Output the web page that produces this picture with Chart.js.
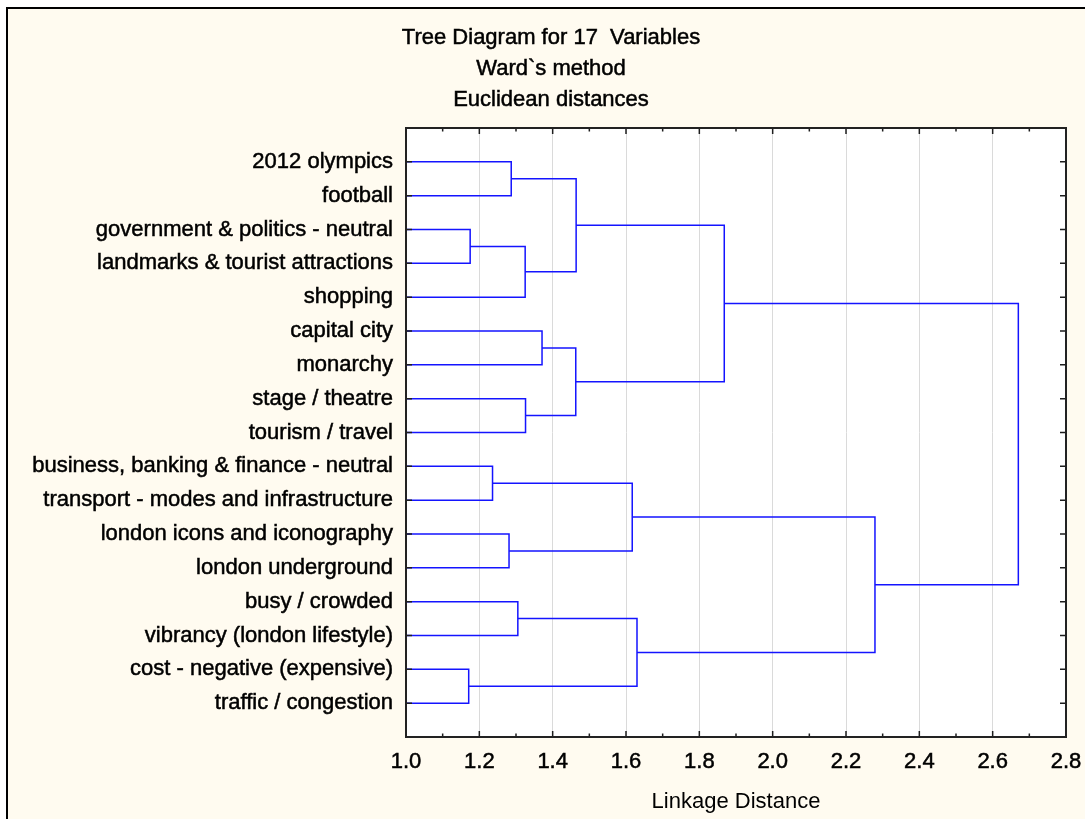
<!DOCTYPE html>
<html>
<head>
<meta charset="utf-8">
<title>Tree Diagram for 17 Variables</title>
<script src="https://cdn.jsdelivr.net/npm/chart.js@4.4.1/dist/chart.umd.min.js"></script>
<style>
  html, body { margin: 0; padding: 0; background: #fff; }
  #wrap { width: 1085px; height: 819px; }
</style>
</head>
<body>
<div id="wrap"><canvas id="tree" width="1085" height="819"></canvas></div>
<script>
const titleLines = ["Tree Diagram for 17  Variables", "Ward`s method", "Euclidean distances"];
const axisTitle = "Linkage Distance";

// leaves, top to bottom as drawn
const leafNames = [
  "2012 olympics",
  "football",
  "government & politics - neutral",
  "landmarks & tourist attractions",
  "shopping",
  "capital city",
  "monarchy",
  "stage / theatre",
  "tourism / travel",
  "business, banking & finance - neutral",
  "transport - modes and infrastructure",
  "london icons and iconography",
  "london underground",
  "busy / crowded",
  "vibrancy (london lifestyle)",
  "cost - negative (expensive)",
  "traffic / congestion"
];

// joins, in order. ids 0..16 = leaves, 17 + i = cluster made by join i
const mergeLeft  = [15, 2, 9, 11, 0, 13, 18, 7, 5, 25, 21, 19, 22, 27, 28, 30];
const mergeRight = [16, 3, 10, 12, 1, 14, 4, 8, 6, 24, 23, 20, 17, 26, 29, 31];
const mergeDist  = [1.171, 1.175, 1.236, 1.281, 1.287, 1.305, 1.325, 1.326, 1.371,
                    1.463, 1.464, 1.617, 1.630, 1.868, 2.279, 2.670];

const xMin = 1.0, xMax = 2.8;
const xTickValues = [1.0, 1.2, 1.4, 1.6, 1.8, 2.0, 2.2, 2.4, 2.6, 2.8];
const xMinorValues = [1.1, 1.3, 1.5, 1.7, 1.9, 2.1, 2.3, 2.5, 2.7];

const FONT = "'Liberation Sans', Arial, Helvetica, sans-serif";
const LINE_BLUE = '#1414ff';

// build one 3-segment bracket per join
const nodeX = leafNames.map(() => xMin);
const nodeY = leafNames.map((_, i) => i + 1);
const datasets = [];
mergeDist.forEach((d, i) => {
  const a = mergeLeft[i], b = mergeRight[i];
  datasets.push({
    label: 'join ' + (i + 1),
    data: [
      { x: nodeX[a], y: nodeY[a] },
      { x: d, y: nodeY[a] },
      { x: d, y: nodeY[b] },
      { x: nodeX[b], y: nodeY[b] }
    ],
    showLine: true,
    borderColor: LINE_BLUE,
    borderWidth: 1.5,
    borderJoinStyle: 'miter',
    pointRadius: 0,
    tension: 0
  });
  nodeX.push(d);
  nodeY.push((nodeY[a] + nodeY[b]) / 2);
});

// page frame, title, plot box and inward ticks (Statistica style)
const frameMarks = {
  id: 'frameMarks',
  beforeDraw(chart) {
    const { ctx, width, height, chartArea: a } = chart;
    ctx.save();
    ctx.fillStyle = '#fff';
    ctx.fillRect(0, 0, width, height);
    ctx.fillStyle = '#fffbf0';
    ctx.fillRect(7, 8, width + 20, height + 20);
    ctx.strokeStyle = '#000';
    ctx.lineWidth = 2;
    ctx.strokeRect(7, 8, width + 20, height + 20);
    ctx.fillStyle = '#fff';
    ctx.fillRect(a.left, a.top, a.right - a.left, a.bottom - a.top);

    // three title lines, centred on the page frame
    ctx.font = '22px ' + FONT;
    ctx.fillStyle = '#000';
    ctx.strokeStyle = '#000';
    ctx.lineWidth = 0.5;
    ctx.textAlign = 'center';
    ctx.textBaseline = 'middle';
    titleLines.forEach((t, i) => {
      ctx.strokeText(t, 551, 38 + i * 31);
      ctx.fillText(t, 551, 38 + i * 31);
    });
    ctx.restore();
  },
  afterDatasetsDraw(chart) {
    const { ctx, chartArea: a, scales } = chart;
    const xs = scales.x, ys = scales.y;
    ctx.save();
    ctx.strokeStyle = '#1e1e1e';
    ctx.lineWidth = 1.5;
    ctx.beginPath();
    const tick = (x1, y1, x2, y2) => { ctx.moveTo(x1, y1); ctx.lineTo(x2, y2); };
    xTickValues.forEach(v => {
      const px = xs.getPixelForValue(v);
      tick(px, a.bottom, px, a.bottom - 6);
      tick(px, a.top, px, a.top + 6);
    });
    xMinorValues.forEach(v => {
      const px = xs.getPixelForValue(v);
      tick(px, a.bottom, px, a.bottom - 3.5);
      tick(px, a.top, px, a.top + 3.5);
    });
    leafNames.forEach((_, i) => {
      const py = ys.getPixelForValue(i + 1);
      tick(a.left, py, a.left + 6, py);
      tick(a.right, py, a.right - 6, py);
    });
    ctx.stroke();
    ctx.strokeStyle = '#222';
    ctx.lineWidth = 2;
    ctx.strokeRect(a.left, a.top, a.right - a.left, a.bottom - a.top);
    ctx.restore();
  }
};

const textFont = { family: FONT, size: 22 };

new Chart(document.getElementById('tree'), {
  type: 'scatter',
  data: { datasets },
  options: {
    responsive: false,
    animation: false,
    events: [],
    layout: { padding: { left: 0, right: 19, top: 128, bottom: 0 } },
    plugins: {
      legend: { display: false },
      tooltip: { enabled: false },
      title: { display: false }
    },
    scales: {
      x: {
        type: 'linear',
        position: 'bottom',
        min: xMin,
        max: xMax,
        afterBuildTicks: s => { s.ticks = xTickValues.map(v => ({ value: v })); },
        afterFit: s => { s.height = 82; s.paddingLeft = 0; s.paddingRight = 0; },
        grid: { color: '#dadada', lineWidth: 1, drawTicks: false },
        border: { display: false },
        ticks: {
          padding: 12,
          color: '#000',
          textStrokeColor: '#000',
          textStrokeWidth: 0.5,
          autoSkip: false,
          maxRotation: 0,
          font: textFont,
          callback: v => Number(v).toFixed(1)
        },
        title: {
          display: true,
          text: axisTitle,
          color: '#000',
          font: textFont,
          padding: { top: 0, bottom: 4 }
        }
      },
      y: {
        type: 'linear',
        min: 0,
        max: 18,
        reverse: true,
        afterBuildTicks: s => { s.ticks = leafNames.map((_, i) => ({ value: i + 1 })); },
        afterFit: s => { s.width = 406; s.paddingTop = 0; s.paddingBottom = 0; },
        grid: { display: false, drawTicks: false, tickLength: 0 },
        border: { display: false },
        ticks: {
          padding: 13,
          color: '#000',
          textStrokeColor: '#000',
          textStrokeWidth: 0.5,
          autoSkip: false,
          font: textFont,
          callback: v => leafNames[v - 1] || ''
        }
      }
    }
  },
  plugins: [frameMarks]
});
</script>
</body>
</html>
